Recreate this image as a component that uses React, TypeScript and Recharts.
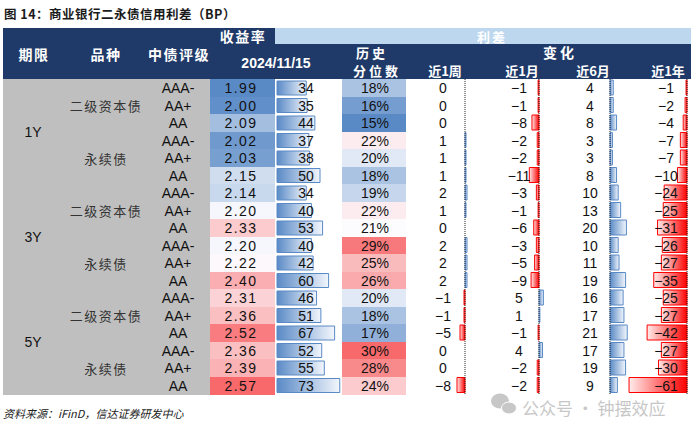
import React from 'react';
import { ComposedChart, Bar, XAxis, YAxis, Cell, ReferenceLine } from 'recharts';

// ---------------- data ----------------
const terms = ['1Y', '3Y', '5Y'];
const bondTypes = ['二级资本债', '永续债'];
const ratings = ['AAA-', 'AA+', 'AA'];
const yields = [1.99, 2.0, 2.09, 2.02, 2.03, 2.15, 2.14, 2.2, 2.33, 2.2, 2.22, 2.4, 2.31, 2.36, 2.52, 2.36, 2.39, 2.57];
const spreads = [34, 35, 44, 37, 38, 50, 34, 40, 53, 40, 42, 60, 46, 51, 67, 52, 55, 73];
const percentiles = [18, 16, 15, 22, 20, 18, 19, 22, 21, 29, 25, 26, 20, 18, 17, 30, 28, 24];
const chg1w = [0, 0, 0, 1, 1, 1, 2, 1, 0, 2, 2, 2, -1, -1, -5, 0, 0, -8];
const chg1m = [-1, -1, -8, -2, -2, -11, -3, -1, -6, -3, -5, -9, 5, 1, -1, 4, -2, -2];
const chg6m = [4, 4, 8, 3, 3, 8, 10, 13, 20, 10, 11, 19, 16, 17, 21, 17, 19, 9];
const chg1y = [-1, -2, -4, -7, -7, -10, -24, -25, -31, -26, -27, -35, -25, -27, -42, -27, -30, -61];

const rows = yields.map((y, i) => ({
  id: i,
  term: terms[Math.floor(i / 6)],
  bondType: bondTypes[Math.floor(i / 3) % 2],
  rating: ratings[i % 3],
  yld: y,
  spread: spreads[i],
  pct: percentiles[i],
  w1: chg1w[i],
  m1: chg1m[i],
  m6: chg6m[i],
  y1: chg1y[i],
  one: 1,
}));

// ---------------- layout / style ----------------
const W = 700;
const H = 426;
const TOP = 79;
const BOTTOM = 394;
const NAVY = '#1f3a68';
const LIGHT = '#bdd7ee';
const GRAY = '#bfbfbf';
const NUM = '"Liberation Sans Narrow", "Liberation Sans", Arial, sans-serif';
const CJK = '"Noto Sans CJK SC", "Noto Sans", sans-serif';
const BLUE_S = '#5a8ac6';
const RED_S = '#ff0000';

const cellDomain = (L: number, R: number) => [-L / (R - L), (W - L) / (R - L)];
const barDomain = (p0: number, k: number) => [-p0 / k, (W - p0) / k];

const BLUE = [90, 138, 198];
const WHITE = [252, 252, 255];
const RED = [248, 105, 107];
function heat(v: number, min: number, mid: number, max: number) {
  let t: number;
  let c: number[];
  if (v <= mid) {
    t = (mid - v) / (mid - min);
    c = BLUE;
  } else {
    t = (v - mid) / (max - mid);
    c = RED;
  }
  t = Math.max(0, Math.min(1, t));
  const m = WHITE.map((w, j) => Math.round(w + (c[j] - w) * t));
  return `rgb(${m[0]},${m[1]},${m[2]})`;
}
const yMin = Math.min(...yields);
const yMax = Math.max(...yields);
const pMin = Math.min(...percentiles);
const pMax = Math.max(...percentiles);

const cellShape = (colorOf: (p: any) => string) => (p: any) => (
  <rect x={p.x} y={p.y} width={p.width} height={p.height} fill={colorOf(p.payload)} shapeRendering="crispEdges" />
);

const fmt = (v: number) => (v < 0 ? '\u2212' + Math.abs(v) : String(v));

const RowText = (p: any) => {
  const { x, y, height, payload } = p;
  const cy = y + height / 2;
  const numStyle = { fontFamily: NUM, fontSize: 14, fill: '#111' };
  const i = payload.id;
  return (
    <g>
      {i % 6 === 2 && (
        <text x={x + 33} y={y + height} textAnchor="middle" dominantBaseline="central" style={{ fontFamily: NUM, fontSize: 14, fill: '#111' }}>
          {payload.term}
        </text>
      )}
      {i % 3 === 1 && (
        <text x={x + 106} y={cy} textAnchor="middle" dominantBaseline="central" style={{ fontFamily: CJK, fontSize: 13, fill: '#333', letterSpacing: 1.5 }}>
          {payload.bondType}
        </text>
      )}
      <text x={x + 178} y={cy} textAnchor="middle" dominantBaseline="central" style={numStyle}>
        {payload.rating}
      </text>
      <text x={x + 241} y={cy} textAnchor="middle" dominantBaseline="central" style={{ ...numStyle, letterSpacing: 1.5 }}>
        {payload.yld.toFixed(2)}
      </text>
      <text x={x + 306} y={cy} textAnchor="middle" dominantBaseline="central" style={numStyle}>
        {payload.spread}
      </text>
      <text x={x + 375} y={cy} textAnchor="middle" dominantBaseline="central" style={numStyle}>
        {payload.pct + '%'}
      </text>
      <text x={x + 443} y={cy} textAnchor="middle" dominantBaseline="central" style={numStyle}>
        {fmt(payload.w1)}
      </text>
      <text x={x + 519} y={cy} textAnchor="middle" dominantBaseline="central" style={numStyle}>
        {fmt(payload.m1)}
      </text>
      <text x={x + 590} y={cy} textAnchor="middle" dominantBaseline="central" style={numStyle}>
        {fmt(payload.m6)}
      </text>
      <text x={x + 666} y={cy} textAnchor="middle" dominantBaseline="central" style={numStyle}>
        {fmt(payload.y1)}
      </text>
    </g>
  );
};

const axes = [
  { id: 'gray', domain: cellDomain(3, 210) },
  { id: 'yld', domain: cellDomain(210, 275) },
  { id: 'spread', domain: barDomain(277, 0.86) },
  { id: 'pct', domain: cellDomain(342, 406) },
  { id: 'w1', domain: barDomain(465, 1.0) },
  { id: 'm1', domain: barDomain(539, 0.88) },
  { id: 'm6', domain: barDomain(610, 0.82) },
  { id: 'y1', domain: barDomain(687, 0.95) },
  { id: 'txt', domain: [0, 1] },
];

const deltaKeys = ['w1', 'm1', 'm6', 'y1'];

export default function App() {
  const hdr = { fontFamily: CJK, fontWeight: 700, fontSize: 14, fill: '#fff', letterSpacing: 1.5 };
  const hdr2 = { fontFamily: CJK, fontWeight: 700, fontSize: 13, fill: '#fff' };
  return (
    <div style={{ position: 'absolute', left: 0, top: 0, width: W, height: H, background: '#fff' }}>
      <svg width={0} height={0} style={{ position: 'absolute' }}>
        <defs>
          <linearGradient id="gBlue" x1="0" y1="0" x2="1" y2="0">
            <stop offset="0" stopColor="#5a8ac6" />
            <stop offset="1" stopColor="#f2f6fc" />
          </linearGradient>
          <linearGradient id="gRed" x1="0" y1="0" x2="1" y2="0">
            <stop offset="0" stopColor="#ffecec" />
            <stop offset="1" stopColor="#ff0000" />
          </linearGradient>
        </defs>
      </svg>
      <ComposedChart
        width={W}
        height={H}
        data={rows}
        layout="vertical"
        margin={{ top: TOP, right: 0, bottom: H - BOTTOM, left: 0 }}
        barCategoryGap={0}
        barGap={0}
      >
        {axes.map((a) => (
          <YAxis key={'y' + a.id} yAxisId={a.id} type="category" dataKey="id" hide />
        ))}
        {axes.map((a) => (
          <XAxis key={'x' + a.id} xAxisId={a.id} type="number" domain={a.domain} allowDataOverflow hide />
        ))}
        <Bar dataKey="one" xAxisId="gray" yAxisId="gray" isAnimationActive={false} shape={cellShape(() => GRAY)} />
        <Bar dataKey="one" xAxisId="yld" yAxisId="yld" isAnimationActive={false} shape={cellShape((d) => heat(d.yld, yMin, 2.21, yMax))} />
        <Bar dataKey="spread" xAxisId="spread" yAxisId="spread" barSize={14} isAnimationActive={false} fill="url(#gBlue)" stroke={BLUE_S} strokeWidth={1} />
        <Bar dataKey="one" xAxisId="pct" yAxisId="pct" isAnimationActive={false} shape={cellShape((d) => heat(d.pct, pMin, 21, pMax))} />
        {deltaKeys.map((k) => (
          <Bar key={k} dataKey={k} xAxisId={k} yAxisId={k} barSize={15} isAnimationActive={false}>
            {rows.map((r: any, i) => {
              const v = r[k];
              return (
                <Cell
                  key={i}
                  fill={v >= 0 ? 'url(#gBlue)' : 'url(#gRed)'}
                  stroke={v === 0 ? 'none' : v > 0 ? BLUE_S : RED_S}
                  strokeWidth={1}
                />
              );
            })}
          </Bar>
        ))}
        {deltaKeys.map((k) => (
          <ReferenceLine key={'r' + k} x={0} xAxisId={k} yAxisId={k} stroke="#222" strokeDasharray="1 1" strokeWidth={1} />
        ))}
        <Bar dataKey="one" xAxisId="txt" yAxisId="txt" isAnimationActive={false} shape={RowText} />
      </ComposedChart>
      <svg width={W} height={H} style={{ position: 'absolute', left: 0, top: 0, pointerEvents: 'none' }}>
        <text x={4} y={13} dominantBaseline="central" style={{ fontFamily: CJK, fontWeight: 700, fontSize: 12.5, fill: '#1a1a1a', letterSpacing: 0.5 }}>
          图 14：商业银行二永债信用利差（BP）
        </text>
        <rect x={3} y={28} width={688} height={51} fill={NAVY} />
        <rect x={275} y={28} width={416} height={16} fill={LIGHT} />
        <text x={243} y={36} textAnchor="middle" dominantBaseline="central" style={hdr}>收益率</text>
        <text x={492} y={36} textAnchor="middle" dominantBaseline="central" style={{ ...hdr2, letterSpacing: 2 }}>利差</text>
        <text x={34} y={54} textAnchor="middle" dominantBaseline="central" style={hdr}>期限</text>
        <text x={106} y={54} textAnchor="middle" dominantBaseline="central" style={hdr}>品种</text>
        <text x={179} y={54} textAnchor="middle" dominantBaseline="central" style={hdr}>中债评级</text>
        <text x={276} y={63} textAnchor="middle" dominantBaseline="central" style={{ fontFamily: '"Liberation Sans", Arial, sans-serif', fontWeight: 700, fontSize: 14, fill: '#fff' }}>
          2024/11/15
        </text>
        <text x={372} y={52} textAnchor="middle" dominantBaseline="central" style={{ ...hdr, fontSize: 13, letterSpacing: 3 }}>历史</text>
        <text x={377} y={70} textAnchor="middle" dominantBaseline="central" style={{ ...hdr, fontSize: 13, letterSpacing: 3 }}>分位数</text>
        <text x={560} y={52} textAnchor="middle" dominantBaseline="central" style={{ ...hdr, letterSpacing: 3 }}>变化</text>
        <text x={445} y={70} textAnchor="middle" dominantBaseline="central" style={hdr2}>近1周</text>
        <text x={522} y={70} textAnchor="middle" dominantBaseline="central" style={hdr2}>近1月</text>
        <text x={593} y={70} textAnchor="middle" dominantBaseline="central" style={hdr2}>近6月</text>
        <text x={668} y={70} textAnchor="middle" dominantBaseline="central" style={hdr2}>近1年</text>
        <text x={3} y={413} dominantBaseline="central" style={{ fontFamily: CJK, fontStyle: 'italic', fontSize: 11, fill: '#222' }}>
          资料来源：iFinD，信达证券研发中心
        </text>
        <g opacity={0.55}>
          <ellipse cx={500} cy={401} rx={9} ry={7.5} fill="#9a9a9a" />
          <ellipse cx={509} cy={408} rx={7.5} ry={6} fill="#9a9a9a" stroke="#fff" strokeWidth={1} />
          <text x={522} y={407} dominantBaseline="central" style={{ fontFamily: CJK, fontSize: 17, fill: '#9a9a9a' }}>
            公众号 · 钟摆效应
          </text>
        </g>
      </svg>
    </div>
  );
}
